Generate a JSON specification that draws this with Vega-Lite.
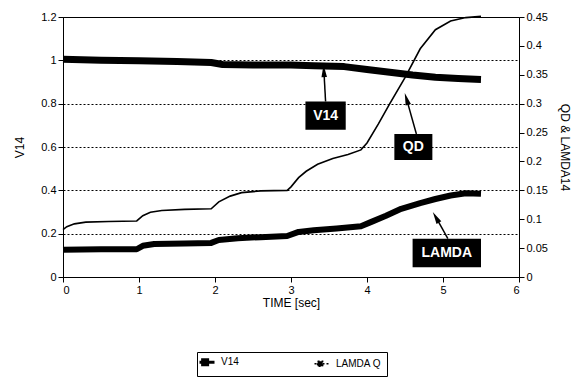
{
  "$schema": "https://vega.github.io/schema/vega-lite/v6.json",
  "width": 456,
  "height": 260,
  "autosize": {"type": "none"},
  "padding": {"left": 63, "top": 17, "right": 55, "bottom": 104},
  "background": "white",
  "config": {
    "font": "Liberation Sans",
    "view": {"stroke": "black", "strokeWidth": 1},
    "axis": {
      "domainColor": "black",
      "tickColor": "black",
      "labelColor": "black",
      "titleColor": "black",
      "labelFontSize": 11,
      "titleFontSize": 12,
      "titleFontWeight": "normal",
      "tickSize": 5,
      "labelPadding": 2,
      "labelOverlap": false
    }
  },
  "datasets": {
    "v14": [
      {"t": 0, "v": 1.005}, {"t": 0.5, "v": 1.0}, {"t": 1, "v": 0.998}, {"t": 1.5, "v": 0.995},
      {"t": 1.95, "v": 0.99}, {"t": 2.1, "v": 0.981}, {"t": 2.5, "v": 0.979}, {"t": 3.0, "v": 0.978},
      {"t": 3.3, "v": 0.975}, {"t": 3.7, "v": 0.971}, {"t": 4.0, "v": 0.958}, {"t": 4.3, "v": 0.945},
      {"t": 4.6, "v": 0.932}, {"t": 4.9, "v": 0.922}, {"t": 5.2, "v": 0.916}, {"t": 5.5, "v": 0.912}
    ],
    "qd": [
      {"t": 0, "q": 0.082}, {"t": 0.05, "q": 0.087}, {"t": 0.15, "q": 0.092}, {"t": 0.3, "q": 0.095},
      {"t": 0.6, "q": 0.096}, {"t": 0.97, "q": 0.097}, {"t": 1.05, "q": 0.106}, {"t": 1.15, "q": 0.112},
      {"t": 1.3, "q": 0.115}, {"t": 1.6, "q": 0.117}, {"t": 1.95, "q": 0.118}, {"t": 2.05, "q": 0.13},
      {"t": 2.2, "q": 0.14}, {"t": 2.35, "q": 0.146}, {"t": 2.6, "q": 0.149}, {"t": 2.95, "q": 0.15},
      {"t": 3.0, "q": 0.156}, {"t": 3.1, "q": 0.172}, {"t": 3.2, "q": 0.183}, {"t": 3.35, "q": 0.195},
      {"t": 3.55, "q": 0.205}, {"t": 3.75, "q": 0.212}, {"t": 3.92, "q": 0.22}, {"t": 4.0, "q": 0.232},
      {"t": 4.15, "q": 0.265}, {"t": 4.3, "q": 0.3}, {"t": 4.5, "q": 0.345}, {"t": 4.7, "q": 0.395},
      {"t": 4.9, "q": 0.428}, {"t": 5.1, "q": 0.443}, {"t": 5.3, "q": 0.449}, {"t": 5.5, "q": 0.451}
    ],
    "lamda": [
      {"t": 0, "q": 0.047}, {"t": 0.5, "q": 0.048}, {"t": 0.97, "q": 0.048}, {"t": 1.05, "q": 0.054},
      {"t": 1.2, "q": 0.057}, {"t": 1.6, "q": 0.058}, {"t": 1.95, "q": 0.059}, {"t": 2.05, "q": 0.064},
      {"t": 2.3, "q": 0.067}, {"t": 2.6, "q": 0.069}, {"t": 2.95, "q": 0.071}, {"t": 3.1, "q": 0.078},
      {"t": 3.3, "q": 0.081}, {"t": 3.6, "q": 0.084}, {"t": 3.92, "q": 0.088}, {"t": 4.05, "q": 0.095},
      {"t": 4.25, "q": 0.106}, {"t": 4.45, "q": 0.118}, {"t": 4.7, "q": 0.128}, {"t": 4.9, "q": 0.135},
      {"t": 5.1, "q": 0.141}, {"t": 5.3, "q": 0.145}, {"t": 5.5, "q": 0.144}
    ],
    "boxes": [
      {"label": "V14", "t": 3.19, "t2": 3.72, "v": 0.68, "v2": 0.81},
      {"label": "QD", "t": 4.36, "t2": 4.86, "v": 0.54, "v2": 0.66},
      {"label": "LAMDA", "t": 4.6, "t2": 5.5, "v": 0.045, "v2": 0.177}
    ],
    "labels": [
      {"label": "V14", "t": 3.455, "v": 0.745},
      {"label": "QD", "t": 4.61, "v": 0.6},
      {"label": "LAMDA", "t": 5.05, "v": 0.111}
    ],
    "arrows": [
      {"label": "V14", "t": 3.455, "v": 0.81, "t2": 3.433, "v2": 0.951},
      {"label": "QD", "t": 4.65, "v": 0.66, "t2": 4.52, "v2": 0.822},
      {"label": "LAMDA", "t": 5.064, "v": 0.177, "t2": 4.906, "v2": 0.276}
    ],
    "heads": [
      {"label": "V14", "t": 3.433, "v": 0.951},
      {"label": "QD", "t": 4.52, "v": 0.822},
      {"label": "LAMDA", "t": 4.906, "v": 0.276}
    ]
  },
  "layer": [
    {
      "encoding": {
        "x": {"field": "t", "type": "quantitative", "scale": {"domain": [0, 6]},
              "axis": {"title": "TIME [sec]", "values": [0, 1, 2, 3, 4, 5, 6], "format": "d", "grid": false, "titlePadding": 2}},
        "y": {"field": "v", "type": "quantitative", "scale": {"domain": [0, 1.2]},
              "axis": {"title": "V14", "orient": "left", "values": [0, 0.2, 0.4, 0.6, 0.8, 1, 1.2], "format": ".2~f",
                       "grid": true, "gridColor": "black", "gridDash": [2, 2], "gridWidth": 1, "gridOpacity": 1, "titlePadding": 14}}
      },
      "layer": [
        {
          "data": {"name": "v14"},
          "mark": {"type": "line", "strokeWidth": 7, "strokeCap": "butt", "strokeJoin": "round"},
          "encoding": {
            "color": {"datum": "V14", "type": "nominal",
                      "scale": {"domain": ["V14", "LAMDA Q"], "range": ["black", "black"]},
                      "legend": {
                        "title": null, "orient": "none", "legendX": 134, "legendY": 335, "direction": "horizontal",
                        "strokeColor": "black", "padding": 5, "columnPadding": 72, "labelFontSize": 10, "labelOffset": 9,
                        "symbolType": "M-0.6,0H0.6M-0.35,-0.2H0.05V0.2H-0.35Z", "symbolSize": 625, "symbolStrokeWidth": 2.5,
                        "encode": {"symbols": {"update": {
                          "fill": {"value": "black"},
                          "stroke": {"value": "black"},
                          "strokeDash": {"signal": "datum.value === 'V14' ? [] : [2, 2]"},
                          "strokeWidth": {"signal": "datum.value === 'V14' ? 3 : 1.5"}
                        }}}
                      }}
          }
        },
        {
          "data": {"name": "boxes"},
          "mark": {"type": "rect", "color": "black"},
          "encoding": {"x2": {"field": "t2"}, "y2": {"field": "v2"}}
        },
        {
          "data": {"name": "labels"},
          "mark": {"type": "text", "color": "white", "fontSize": 14, "fontWeight": "bold", "baseline": "middle", "align": "center"},
          "encoding": {"text": {"field": "label"}}
        },
        {
          "data": {"name": "arrows"},
          "mark": {"type": "rule", "color": "black", "strokeWidth": 1.5},
          "encoding": {"x2": {"field": "t2"}, "y2": {"field": "v2"}}
        },
        {
          "data": {"name": "heads"},
          "transform": [{"filter": "datum.label === 'V14'"}],
          "mark": {"type": "point", "shape": "M0,-1L0.45,1L-0.45,1Z", "filled": true, "color": "black", "opacity": 1, "size": 150, "angle": -3},
          "encoding": {}
        },
        {
          "data": {"name": "heads"},
          "transform": [{"filter": "datum.label === 'QD'"}],
          "mark": {"type": "point", "shape": "M0,-1L0.45,1L-0.45,1Z", "filled": true, "color": "black", "opacity": 1, "size": 150, "angle": -17},
          "encoding": {}
        },
        {
          "data": {"name": "heads"},
          "transform": [{"filter": "datum.label === 'LAMDA'"}],
          "mark": {"type": "point", "shape": "M0,-1L0.45,1L-0.45,1Z", "filled": true, "color": "black", "opacity": 1, "size": 150, "angle": -30},
          "encoding": {}
        }
      ]
    },
    {
      "encoding": {
        "x": {"field": "t", "type": "quantitative", "scale": {"domain": [0, 6]},
              "axis": {"title": "TIME [sec]", "values": [0, 1, 2, 3, 4, 5, 6], "format": "d", "grid": false, "titlePadding": 2}},
        "y": {"field": "q", "type": "quantitative", "scale": {"domain": [0, 0.45]},
              "axis": {"title": "QD & LAMDA14", "orient": "right", "values": [0, 0.05, 0.1, 0.15, 0.2, 0.25, 0.3, 0.35, 0.4, 0.45],
                       "format": ".2~f", "grid": false, "titlePadding": 10, "labelOverlap": false}},
        "color": {"datum": "LAMDA Q", "type": "nominal"}
      },
      "layer": [
        {
          "data": {"name": "qd"},
          "mark": {"type": "line", "strokeWidth": 1.6}
        },
        {
          "data": {"name": "lamda"},
          "mark": {"type": "line", "strokeWidth": 6, "strokeCap": "butt", "strokeJoin": "round"}
        }
      ]
    }
  ],
  "resolve": {"scale": {"y": "independent"}}
}
